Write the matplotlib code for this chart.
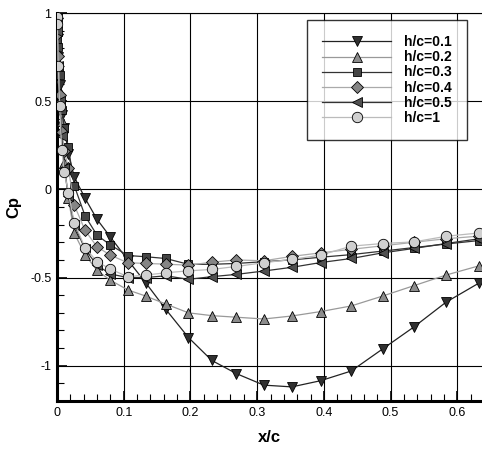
import matplotlib
matplotlib.use("Agg")
import matplotlib.pyplot as plt
from matplotlib.ticker import MultipleLocator

plt.rcParams['font.family'] = ['Liberation Sans', 'DejaVu Sans']

# chordwise stations (x/c)
x_c = [0.0, 0.0005, 0.002, 0.004, 0.007, 0.011, 0.017, 0.026,
       0.042, 0.06, 0.08, 0.106, 0.133, 0.163, 0.197, 0.232, 0.269,
       0.31, 0.352, 0.395, 0.441, 0.488, 0.535, 0.583, 0.633]

labels = ["h/c=0.1", "h/c=0.2", "h/c=0.3", "h/c=0.4", "h/c=0.5", "h/c=1"]

cp_h01 = [0.97, 0.90, 0.75, 0.59, 0.42, 0.35, 0.20, 0.07,
          -0.05, -0.17, -0.27, -0.40, -0.53, -0.68, -0.84, -0.97, -1.045,
          -1.11, -1.12, -1.085, -1.03, -0.905, -0.78, -0.64, -0.53]
cp_h02 = [0.98, 0.90, 0.72, 0.55, 0.39, 0.15, -0.05, -0.25,
          -0.37, -0.46, -0.515, -0.57, -0.605, -0.65, -0.70, -0.716, -0.725,
          -0.735, -0.718, -0.693, -0.661, -0.605, -0.546, -0.486, -0.433]
cp_h03 = [0.96, 0.85, 0.81, 0.65, 0.45, 0.35, 0.24, 0.02,
          -0.15, -0.26, -0.315, -0.375, -0.382, -0.392, -0.425, -0.425, -0.42,
          -0.41, -0.40, -0.385, -0.37, -0.35, -0.33, -0.31, -0.29]
cp_h04 = [0.97, 0.88, 0.757, 0.535, 0.324, 0.22, 0.12, -0.09,
          -0.232, -0.326, -0.373, -0.416, -0.42, -0.424, -0.43, -0.413, -0.40,
          -0.405, -0.38, -0.36, -0.34, -0.32, -0.30, -0.28, -0.265]
cp_h05 = [0.97, 0.90, 0.70, 0.50, 0.30, 0.12, -0.04, -0.20,
          -0.34, -0.43, -0.48, -0.50, -0.50, -0.49, -0.51, -0.495, -0.482,
          -0.463, -0.442, -0.415, -0.392, -0.36, -0.335, -0.307, -0.28]
cp_h1 = [0.98, 0.936, 0.70, 0.475, 0.224, 0.10, -0.02, -0.19,
         -0.33, -0.41, -0.452, -0.495, -0.486, -0.473, -0.462, -0.454, -0.437,
         -0.416, -0.397, -0.373, -0.322, -0.307, -0.298, -0.266, -0.247]

series = [cp_h01, cp_h02, cp_h03, cp_h04, cp_h05, cp_h1]
markers = ['v', '^', 's', 'D', '<', 'o']
fills = ['#303030', '#8c8c8c', '#444444', '#858585', '#505050', '#d0d0d0']
lines = ['#222222', '#999999', '#333333', '#aaaaaa', '#333333', '#bbbbbb']
msizes = [7.5, 7.5, 6.2, 6.2, 7, 7.5]

fig = plt.figure(figsize=(4.82, 4.5), dpi=100)
ax = fig.add_axes([57/482, 49/450, 1 - 57/482, 388/450])

for cp, lab, m, fc, lc, ms in zip(series, labels, markers, fills, lines, msizes):
    ax.plot(x_c, cp, color=lc, lw=0.9, marker=m, markersize=ms,
            markerfacecolor=fc, markeredgecolor='black', markeredgewidth=0.6,
            label=lab, zorder=3)

ax.set_xlim(0, 0.637)
ax.set_ylim(-1.2, 1.0)
ax.xaxis.set_major_locator(MultipleLocator(0.1))
ax.xaxis.set_minor_locator(MultipleLocator(0.02))
ax.yaxis.set_major_locator(MultipleLocator(0.5))
ax.yaxis.set_minor_locator(MultipleLocator(0.1))
ax.set_xticks([0, 0.1, 0.2, 0.3, 0.4, 0.5, 0.6])
ax.set_xticklabels(['0', '0.1', '0.2', '0.3', '0.4', '0.5', '0.6'])
ax.set_yticks([-1, -0.5, 0, 0.5, 1])
ax.set_yticklabels(['-1', '-0.5', '0', '0.5', '1'])

ax.tick_params(which='major', direction='in', length=7, width=1.2,
               labelsize=9, top=False, right=False, pad=4)
ax.tick_params(which='minor', direction='in', length=5, width=0.8,
               top=False, right=False)
ax.grid(True, which='major', color='black', lw=0.8)
ax.set_axisbelow(True)

ax.spines['bottom'].set_linewidth(2.2)
ax.spines['left'].set_linewidth(2.2)
ax.spines['top'].set_linewidth(0.8)
ax.spines['right'].set_visible(False)

ax.set_xlabel('x/c', fontsize=12, fontweight='bold', labelpad=8)
ax.set_ylabel('Cp', fontsize=12, fontweight='bold', labelpad=6)

leg = ax.legend(loc='upper right', bbox_to_anchor=(467/482, 1 - 20/450),
                bbox_transform=fig.transFigure, frameon=True, fancybox=False,
                edgecolor='black', prop={'weight': 'bold', 'size': 10},
                handlelength=5.0, labelspacing=0.08, borderpad=1.1,
                handletextpad=0.9, borderaxespad=0)
leg.get_frame().set_linewidth(1.0)
leg.set_zorder(5)

fig.savefig('out.png', dpi=100)
